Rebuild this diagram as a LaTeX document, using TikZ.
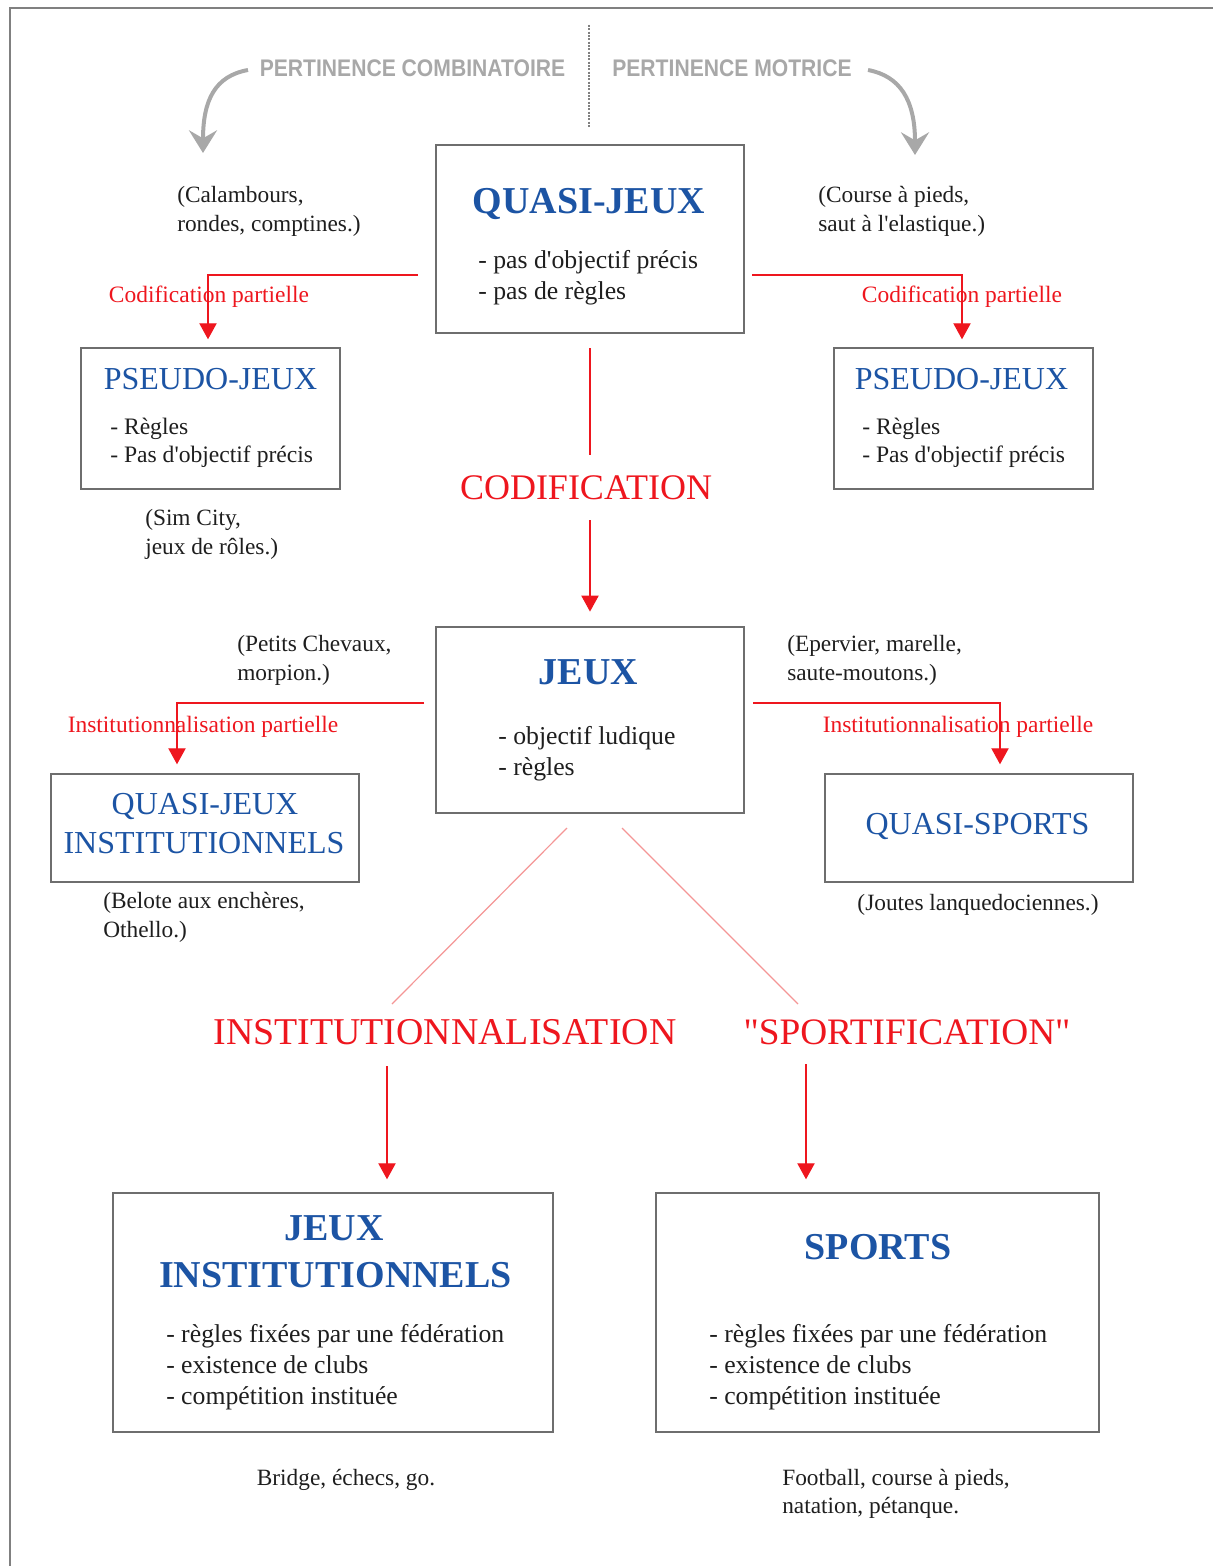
\documentclass[tikz,border=0pt]{standalone}
\usepackage{fontspec}
\setmainfont{Liberation Serif}[Ligatures=TeXOff]
\newfontfamily\headfont{Liberation Sans}
\usepackage{graphicx}
\usetikzlibrary{arrows.meta}
\definecolor{tblue}{RGB}{28,84,164}
\definecolor{tred}{RGB}{238,22,30}
\definecolor{tpink}{RGB}{244,150,150}
\definecolor{tgray}{RGB}{168,168,168}
\definecolor{tframe}{RGB}{128,128,128}
\definecolor{tborder}{RGB}{110,110,110}
\definecolor{ttext}{RGB}{30,30,30}
\begin{document}
\begin{tikzpicture}[x=0.75pt,y=-0.75pt,
  box/.style={draw=tborder,line width=1.1pt,inner sep=0pt},
  btitle/.style={text=tblue,font=\fontsize{28.5}{34}\selectfont\bfseries,anchor=mid,inner sep=0pt,yshift=-4.5pt},
  rtitle/.style={text=tblue,font=\fontsize{24}{29}\selectfont,anchor=mid,inner sep=0pt,yshift=-4pt},
  item/.style={text=ttext,font=\fontsize{19.3}{23}\selectfont,anchor=mid west,inner sep=0pt,yshift=-3.75pt},
  sitem/.style={text=ttext,font=\fontsize{17.7}{21}\selectfont,anchor=mid west,inner sep=0pt,yshift=-3.75pt},
  note/.style={text=ttext,font=\fontsize{17.5}{21}\selectfont,anchor=mid west,inner sep=0pt,yshift=-3.75pt},
  plabel/.style={text=tred,font=\fontsize{17.6}{21}\selectfont,anchor=mid,inner sep=0pt,yshift=-3.75pt},
  biglabel/.style={text=tred,font=\fontsize{28}{34}\selectfont,anchor=mid,inner sep=0pt,yshift=-4.5pt},
  head/.style={text=tgray,font=\headfont\bfseries\fontsize{18}{22}\selectfont,anchor=mid,inner sep=0pt,yshift=-1pt},
  conn/.style={draw=tred,line width=0.8pt},
  rarrow/.style={conn,-{Triangle[length=12pt,width=13pt]}},
  pinkline/.style={draw=tpink,line width=0.9pt},
  garrow/.style={draw=tgray,line width=3pt,-{Stealth[length=17pt,width=21pt,inset=6pt]}},
]
\useasboundingbox (0,0) rectangle (1213,1566);
% frame
\draw[tframe,line width=1.5pt] (10,1566) -- (10,8) -- (1213,8);

% header
\node[head] (hcomb) at (412.5,72) {\scalebox{0.88}[1]{PERTINENCE COMBINATOIRE}};
\node[head] (hmot) at (732,72) {\scalebox{0.88}[1]{PERTINENCE MOTRICE}};
\coordinate (dtop) at (589,25);
\coordinate (dbot) at (589,128);
\draw[tframe,line width=1.5pt,dash pattern=on 1.5pt off 1pt] (dtop) -- (dbot);
\coordinate (gL1) at (248,70);
\coordinate (gL2) at (203,153);
\coordinate (gR1) at (868,70);
\coordinate (gR2) at (915,155);
\draw[garrow] (gL1) .. controls (215,76) and (203,100) .. (gL2);
\draw[garrow] (gR1) .. controls (900,76) and (915,100) .. (gR2);

% boxes
\node[box,minimum width=231pt,minimum height=141pt] (quasi) at (590,239) {};
\node[box,minimum width=194.25pt,minimum height=105.75pt] (pseudoL) at (210.5,418.5) {};
\node[box,minimum width=194.25pt,minimum height=105.75pt] (pseudoR) at (963.5,418.5) {};
\node[box,minimum width=231pt,minimum height=139.5pt] (jeux) at (590,720) {};
\node[box,minimum width=231pt,minimum height=81pt] (qji) at (205,828) {};
\node[box,minimum width=231pt,minimum height=81pt] (qsports) at (979,828) {};
\node[box,minimum width=330pt,minimum height=179.25pt] (ji) at (333,1312.5) {};
\node[box,minimum width=332.25pt,minimum height=179.25pt] (sports) at (877.5,1312.5) {};

% QUASI-JEUX
\node[btitle] (tquasi) at (589,204) {QUASI-JEUX};
\node[item] (q1) at (478,260) {- pas d'objectif précis};
\node[item] (q2) at (478,291) {- pas de règles};
\node[note] (n1a) at (177,194) {(Calambours,};
\node[note] (n1b) at (177,223) {rondes, comptines.)};
\node[note] (n2a) at (818,194) {(Course à pieds,};
\node[note] (n2b) at (818,223) {saut à l'elastique.)};

% partial codification connectors
\coordinate (qjW) at (418,275);
\coordinate (qjWc) at (208,275);
\coordinate (qjE) at (752,275);
\coordinate (qjEc) at (962,275);
\draw[rarrow,shorten >=6pt] (qjW) -- (qjWc) -- (qjWc |- pseudoL.north);
\draw[rarrow,shorten >=6pt] (qjE) -- (qjEc) -- (qjEc |- pseudoR.north);
\node[plabel] (cpL) at (209,294) {Codification partielle};
\node[plabel] (cpR) at (962,294) {Codification partielle};

% PSEUDO-JEUX
\node[rtitle] (tpsL) at (210.5,381) {PSEUDO-JEUX};
\node[sitem] (pl1) at (110,426) {- Règles};
\node[sitem] (pl2) at (110,454) {- Pas d'objectif précis};
\node[rtitle] (tpsR) at (961.5,381) {PSEUDO-JEUX};
\node[sitem] (pr1) at (862,426) {- Règles};
\node[sitem] (pr2) at (862,454) {- Pas d'objectif précis};
\node[note] (n3a) at (145,517) {(Sim City,};
\node[note] (n3b) at (145,546) {jeux de rôles.)};

% CODIFICATION
\node[biglabel,font=\fontsize{27}{32}\selectfont] (codif) at (586,490) {CODIFICATION};
\coordinate (c1) at (590,455);
\coordinate (c2) at (590,520);
\draw[conn] ([yshift=-11pt]quasi.south) -- (c1);
\draw[rarrow,shorten >=11pt] (c2) -- (c2 |- jeux.north);

% JEUX
\node[btitle] (tjeux) at (588.5,675) {JEUX};
\node[item] (j1) at (498,736) {- objectif ludique};
\node[item] (j2) at (498,767) {- règles};
\node[note] (n4a) at (237,643) {(Petits Chevaux,};
\node[note] (n4b) at (237,672) {morpion.)};
\node[note] (n5a) at (787,643) {(Epervier, marelle,};
\node[note] (n5b) at (787,672) {saute-moutons.)};

% partial institutionalisation connectors
\coordinate (jW) at (424,703);
\coordinate (jWc) at (177,703);
\coordinate (jE) at (753,703);
\coordinate (jEc) at (1000,703);
\draw[rarrow,shorten >=6.75pt] (jW) -- (jWc) -- (jWc |- qji.north);
\draw[rarrow,shorten >=6.75pt] (jE) -- (jEc) -- (jEc |- qsports.north);
\node[plabel] (ipL) at (203,724) {Institutionnalisation partielle};
\node[plabel] (ipR) at (958,724) {Institutionnalisation partielle};

% QUASI-JEUX INSTITUTIONNELS / QUASI-SPORTS
\node[rtitle] (tqji1) at (205,806) {QUASI-JEUX};
\node[rtitle] (tqji2) at (204,845) {INSTITUTIONNELS};
\node[rtitle] (tqs) at (977.5,826) {QUASI-SPORTS};
\node[note] (n6a) at (103,900) {(Belote aux enchères,};
\node[note] (n6b) at (103,929) {Othello.)};
\node[note,anchor=mid] (n7) at (978,902) {(Joutes lanquedociennes.)};

% diagonals
\coordinate (d1) at (567,828);
\coordinate (d2) at (392,1004);
\coordinate (d3) at (622,828);
\coordinate (d4) at (798,1004);
\draw[pinkline] (d1) -- (d2);
\draw[pinkline] (d3) -- (d4);

\node[biglabel,font=\fontsize{28.4}{34}\selectfont] (inst) at (445,1035) {INSTITUTIONNALISATION};
\node[biglabel] (sportif) at (907,1035) {"SPORTIFICATION"};
\coordinate (i1) at (387,1066);
\coordinate (s1) at (806,1064);
\draw[rarrow,shorten >=9.75pt] (i1) -- (i1 |- ji.north);
\draw[rarrow,shorten >=9.75pt] (s1) -- (s1 |- sports.north);

% JEUX INSTITUTIONNELS
\node[btitle] (tji1) at (334,1231) {JEUX};
\node[btitle] (tji2) at (335.5,1278) {INSTITUTIONNELS};
\node[item] (ji1) at (166,1334) {- règles fixées par une fédération};
\node[item] (ji2) at (166,1365) {- existence de clubs};
\node[item] (ji3) at (166,1396) {- compétition instituée};
\node[note,anchor=mid] (n8) at (346,1477) {Bridge, échecs, go.};

% SPORTS
\node[btitle] (tsp) at (878,1250) {SPORTS};
\node[item] (sp1) at (709,1334) {- règles fixées par une fédération};
\node[item] (sp2) at (709,1365) {- existence de clubs};
\node[item] (sp3) at (709,1396) {- compétition instituée};
\node[note] (n9a) at (782,1477) {Football, course à pieds,};
\node[note] (n9b) at (782,1505) {natation, pétanque.};
\end{tikzpicture}
\end{document}
